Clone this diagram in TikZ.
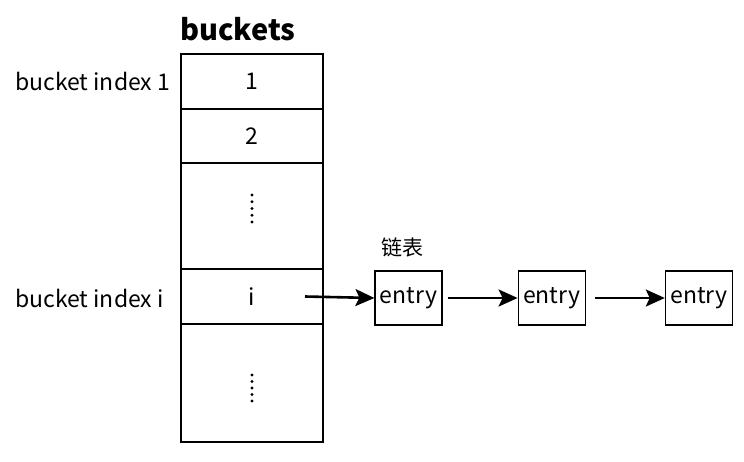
\documentclass[tikz,border=0pt]{standalone}
\usepackage{fontspec}
\setmainfont{Noto Sans CJK SC}
\usepackage{tikz}
\usetikzlibrary{arrows.meta, positioning}
\tikzset{%
	bucket cell/.style={
		draw,
		line width=1.2pt,
		minimum width=142pt,
		inner sep=0pt,
		outer sep=0pt,
		font=\fontsize{23}{27}\selectfont
	},
	entry box/.style={
		draw,
		line width=1.2pt,
		minimum width=67pt,
		minimum height=54pt,
		inner sep=0pt,
		font=\fontsize{23}{27}\selectfont
	},
	next arrow/.style={
		line width=2.6pt,
		-{Stealth[length=19pt,width=17pt,inset=4pt]}
	},
}

\begin{document}
\begin{tikzpicture}[x=1pt, y=-1pt]
			\useasboundingbox (0,0) rectangle (744,461);
			
			% Draw the bucket column
			\node[bucket cell, minimum height=55pt] (c1) at (252,81.5) {1};
			\node[bucket cell, minimum height=54pt, below=0pt of c1] (c2) {2};
			\node[bucket cell, minimum height=106pt, below=0pt of c2] (c3) {};
			\node[bucket cell, minimum height=55pt, below=0pt of c3] (ci) {i};
			\node[bucket cell, minimum height=118pt, below=0pt of ci] (c5) {};
			
			% Draw the title
			\node[anchor=base west, inner sep=0pt, font=\fontsize{29}{35}\selectfont\bfseries] (title) at (180,40) {buckets};
			
			% Draw the index labels
			\node[anchor=west, inner sep=0pt, font=\fontsize{23}{27}\selectfont] (lab1) at (15,81.5) {bucket index 1};
			\node[anchor=west, inner sep=0pt, font=\fontsize{23}{27}\selectfont] (labi) at (15,298) {bucket index i};
			
			% Draw the dots
			\foreach \y in {195,201.75,...,223} {
				\fill (252,\y) circle (1.6pt);
			}
			\foreach \y in {375,381.5,...,402} {
				\fill (252,\y) circle (1.6pt);
			}
			
			% Draw the list
			\node[entry box] (e1) at (408.5,298) {entry};
			\node[entry box, right=75pt of e1] (e2) {entry};
			\node[entry box, right=79pt of e2] (e3) {entry};
			\node[above=13pt of e1, xshift=-6pt, inner sep=0pt, font=\fontsize{21}{25}\selectfont] (list) {链表};
			
			% Draw the arrows
			\coordinate (p0) at ([xshift=-18pt]ci.east);
			\draw[next arrow] (p0) -- (e1.west);
			\draw[next arrow, shorten <=5pt] (e1.east) -- (e2.west);
			\draw[next arrow, shorten <=9pt] (e2.east) -- (e3.west);

		\end{tikzpicture}
\end{document}
